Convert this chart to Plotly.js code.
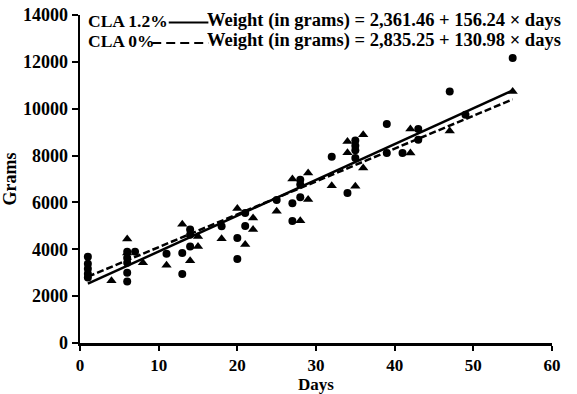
<!DOCTYPE html>
<html>
<head>
<meta charset="utf-8">
<script src="https://cdn.plot.ly/plotly-3.0.1.min.js"></script>
<style>html,body{margin:0;padding:0;background:#fff;}#chart{width:577px;height:394px;}</style>
</head>
<body>
<div id="chart"></div>
<script>
// Circle markers
const circleDays  = [1,1,1,1,1, 6,6,6,6,6, 7, 11, 13,13, 14,14,14, 18, 20,20, 21,21, 25, 27,27, 28,28,28, 32, 34, 35,35,35,35, 39,39, 41, 43,43, 47, 49, 55];
const circleGrams = [3680,3380,3170,2960,2800, 3900,3630,3420,3000,2620, 3900, 3810, 3840,2950, 4840,4620,4120, 4980, 4480,3590, 5550,4990, 6100, 5960,5210, 6970,6760,6220, 7950, 6400, 8640,8420,8230,7900, 9350,8110, 8110, 9130,8680, 10740, 9740, 12160];
// Triangle markers
const triDays  = [4, 6,6, 8, 11, 13, 14, 15,15, 18, 20, 21, 22,22, 25, 27, 28, 29,29, 32, 34,34, 35, 36,36, 42,42, 47, 55];
const triGrams = [2660, 4440,3840, 3420, 3320, 5070, 3510, 4550,4120, 4450, 5740, 4200, 5340,4840, 5620, 7000, 5220, 7260,6120, 6710, 8600,8120, 6690, 8890,7470, 9130,8110, 9050, 10740];
// Regression lines (end points)
const fitDays = [1, 55];
const fitSolid = [2530, 10780];
const fitDashed = [2830, 10400];
// Tick labels
const xTicks = [0, 10, 20, 30, 40, 50, 60];
const yTicks = [0, 2000, 4000, 6000, 8000, 10000, 12000, 14000];
const xTitle = "Days";
const yTitle = "Grams";
const legendLabels = ["CLA 1.2%", "CLA 0%"];
const legendEquations = ["Weight (in grams) = 2,361.46 + 156.24 × days", "Weight (in grams) = 2,835.25 + 130.98 × days"];

const FAMILY = "Liberation Serif, 'Times New Roman', serif";
const FONT = {family: FAMILY, size: 18, color: "#000", weight: "bold"};
const XFONT = {family: FAMILY, size: 17, color: "#000", weight: "bold"};
const LABFONT = {family: FAMILY, size: 17.5, color: "#000", weight: "bold"};
const LEGFONT = {family: FAMILY, size: 18.5, color: "#000", weight: "bold"};

const traces = [
  {x: fitDays, y: fitSolid, mode: "lines", line: {color: "#000", width: 2.5}, showlegend: false, hoverinfo: "skip"},
  {x: fitDays, y: fitDashed, mode: "lines", line: {color: "#000", width: 2.5, dash: "7px,3px"}, showlegend: false, hoverinfo: "skip"},
  {x: circleDays, y: circleGrams, mode: "markers", marker: {symbol: "circle", size: 8, color: "#000"}, showlegend: false},
  {x: triDays, y: triGrams, mode: "markers", marker: {symbol: "triangle-up", size: 9, color: "#000"}, showlegend: false}
];

const rowY = [0.983, 0.921];
const annotations = [];
const shapes = [];
for (let i = 0; i < 2; i++) {
  annotations.push({xref: "paper", yref: "paper", x: 0.017, y: rowY[i], xanchor: "left", yanchor: "middle", text: legendLabels[i], showarrow: false, font: LABFONT, xshift: -2});
  annotations.push({xref: "paper", yref: "paper", x: 0.27, y: rowY[i], xanchor: "left", yanchor: "middle", text: legendEquations[i], showarrow: false, font: LEGFONT, xshift: -2});
}
annotations.push({xref: "paper", yref: "paper", x: 0.5, y: 0, yshift: -41, xanchor: "center", yanchor: "middle", text: xTitle, showarrow: false, font: XFONT});
shapes.push({type: "line", xref: "paper", yref: "paper", x0: 0.188, x1: 0.272, y0: rowY[0] - 0.006, y1: rowY[0] - 0.006, line: {color: "#000", width: 2}});
shapes.push({type: "line", xref: "paper", yref: "paper", x0: 0.153, x1: 0.272, y0: rowY[1] - 0.006, y1: rowY[1] - 0.006, line: {color: "#000", width: 2, dash: "9px,5px"}});

const layout = {
  width: 577, height: 394,
  margin: {l: 80, r: 25, t: 15, b: 51},
  paper_bgcolor: "#fff", plot_bgcolor: "#fff",
  font: FONT,
  showlegend: false,
  xaxis: {
    range: [0, 60], tickvals: xTicks, ticktext: xTicks.map(String),
    showline: true, linecolor: "#000", linewidth: 2.5,
    ticks: "outside", ticklen: 5, tickwidth: 2, tickcolor: "#000",
    showgrid: false, zeroline: false, tickfont: XFONT
  },
  yaxis: {
    range: [0, 14000], tickvals: yTicks, ticktext: yTicks.map(String),
    showline: true, linecolor: "#000", linewidth: 2.5,
    ticks: "outside", ticklen: 6, tickwidth: 2, tickcolor: "#000",
    showgrid: false, zeroline: false, tickfont: FONT,
    title: {text: yTitle, font: FONT, standoff: 2}
  },
  annotations: annotations,
  shapes: shapes
};

Plotly.newPlot("chart", traces, layout, {staticPlot: true, displayModeBar: false});
</script>
</body>
</html>
